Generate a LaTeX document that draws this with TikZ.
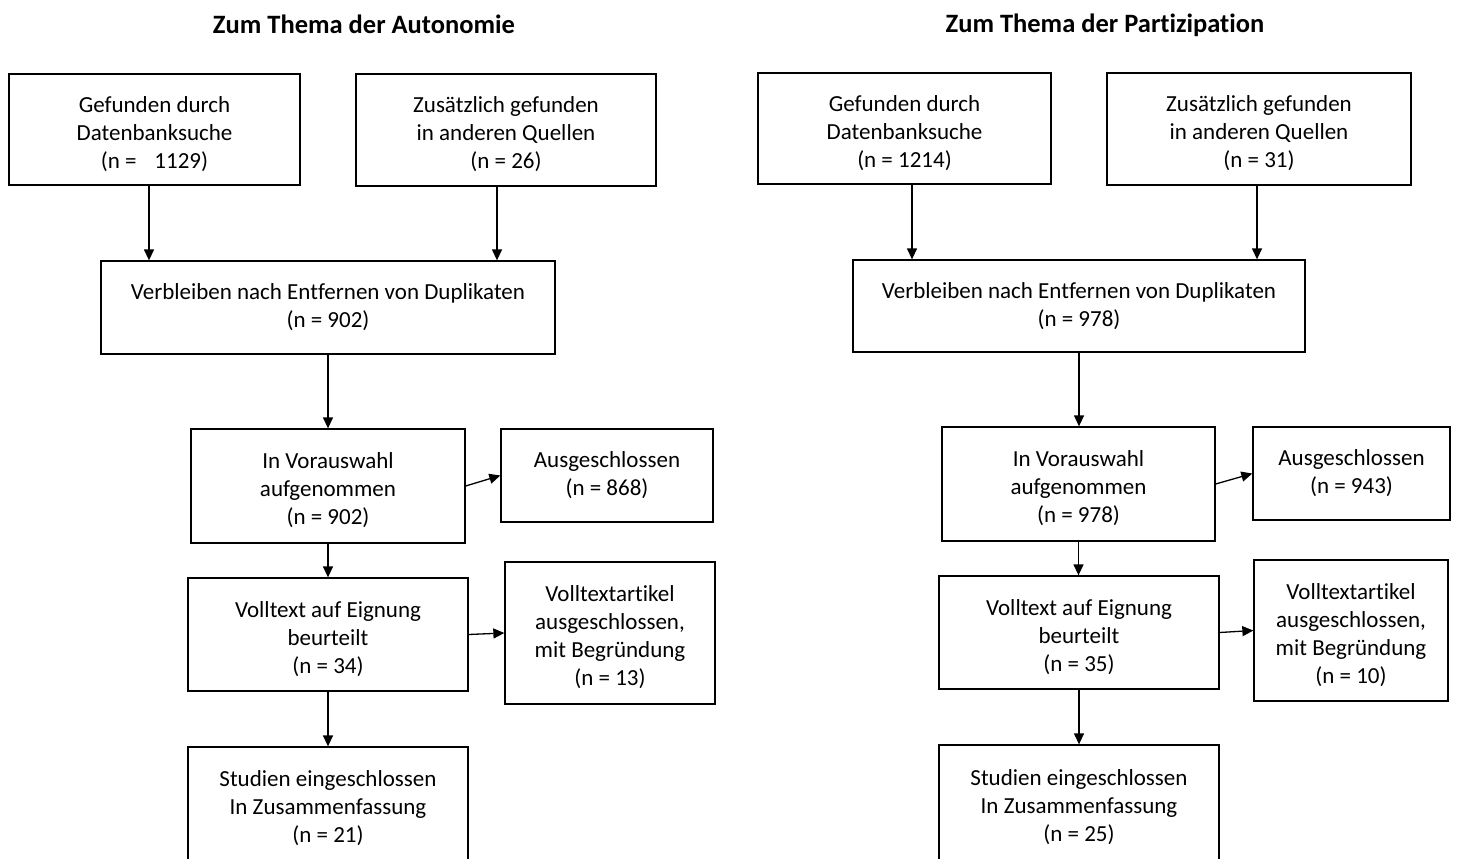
\documentclass[tikz,border=0pt]{standalone}
\usepackage{fontspec}
\setmainfont{Carlito}[Ligatures=NoCommon]
\usetikzlibrary{arrows.meta}
\newcommand{\lowr}{\rule{0pt}{25pt}}
\tikzset{
  box/.style={draw, line width=1.3pt, align=center, inner sep=0pt,
    font=\fontsize{23}{28}\selectfont},
  arr/.style={line width=1.3pt, -{Triangle[length=11pt,width=10pt]}},
  ttl/.style={font=\fontsize{26.5}{30}\selectfont\bfseries, inner sep=0pt}
}
\begin{document}
\begin{tikzpicture}[x=1pt,y=-1pt]
\useasboundingbox[fill=white] (0,0) rectangle (1457,859);
\begin{scope}
\clip (0,0) rectangle (1457,859);
% Left panel
\node[ttl] (Lt) at (364,24) {Zum Thema der Autonomie};
\node[box, minimum width=291pt, minimum height=111pt] (LA1) at (154.5,129.5) {\lowr Gefunden durch\\Datenbanksuche\\(n = \hspace{0.55em}1129)};
\node[box, minimum width=300pt, minimum height=112pt] (LA2) at (506,130) {\lowr Zusätzlich gefunden\\in anderen Quellen\\(n = 26)};
\node[box, minimum width=454pt, minimum height=93pt] (LB) at (328,307.5) {Verbleiben nach Entfernen von Duplikaten\\(n = 902)};
\node[box, minimum width=274pt, minimum height=114pt] (LC) at (328,486) {\lowr In Vorauswahl\\aufgenommen\\(n = 902)};
\node[box, minimum width=212pt, minimum height=93pt] (LD) at (607,475.5) {Ausgeschlossen\\(n = 868)};
\node[box, minimum width=280pt, minimum height=113pt] (LE) at (328,634.5) {\lowr Volltext auf Eignung\\beurteilt\\(n = 34)};
\node[box, minimum width=210pt, minimum height=142pt] (LF) at (610,633) {\lowr Volltextartikel\\ausgeschlossen,\\mit Begründung\\(n = 13)};
\node[box, minimum width=280pt, minimum height=114pt] (LG) at (328,804) {\lowr Studien eingeschlossen\\In Zusammenfassung\\(n = 21)};
\draw[arr] ([xshift=-5.5pt]LA1.south) -- ([xshift=-5.5pt]LA1.south |- LB.north);
\draw[arr] ([xshift=-9pt]LA2.south) -- ([xshift=-9pt]LA2.south |- LB.north);
\draw[arr] (LB.south) -- (LB.south |- LC.north);
\draw[arr] (LC.east) -- (LD.west);
\draw[arr] (LC.south) -- (LC.south |- LE.north);
\draw[arr] (LE.east) -- (LF.west);
\draw[arr] (LE.south) -- (LE.south |- LG.north);
% Right panel
\node[ttl, anchor=base] (Rt) at (1105,33) {Zum Thema der Partizipation};
\node[box, minimum width=293pt, minimum height=111pt] (RA1) at (904.5,128.5) {\lowr Gefunden durch\\Datenbanksuche\\(n = 1214)};
\node[box, minimum width=304pt, minimum height=112pt] (RA2) at (1259,129) {\lowr Zusätzlich gefunden\\in anderen Quellen\\(n = 31)};
\node[box, minimum width=452pt, minimum height=92pt] (RB) at (1079,306) {Verbleiben nach Entfernen von Duplikaten\\(n = 978)};
\node[box, minimum width=273pt, minimum height=114pt] (RC) at (1078.5,484) {\lowr In Vorauswahl\\aufgenommen\\(n = 978)};
\node[box, minimum width=197pt, minimum height=93pt] (RD) at (1351.5,473.5) {Ausgeschlossen\\(n = 943)};
\node[box, minimum width=280pt, minimum height=113pt] (RE) at (1079,632.5) {\lowr Volltext auf Eignung\\beurteilt\\(n = 35)};
\node[box, minimum width=194pt, minimum height=141pt] (RF) at (1351,630.5) {\lowr Volltextartikel\\ausgeschlossen,\\mit Begründung\\(n = 10)};
\node[box, minimum width=280pt, minimum height=115pt] (RG) at (1079,802.5) {\lowr Studien eingeschlossen\\In Zusammenfassung\\(n = 25)};
\draw[arr] ([xshift=7.5pt]RA1.south) -- ([xshift=7.5pt]RA1.south |- RB.north);
\draw[arr] ([xshift=-2pt]RA2.south) -- ([xshift=-2pt]RA2.south |- RB.north);
\draw[arr] (RB.south) -- (RB.south |- RC.north);
\draw[arr] (RC.east) -- (RD.west);
\draw[arr] (RC.south) -- (RC.south |- RE.north);
\draw[arr] (RE.east) -- (RF.west);
\draw[arr] (RE.south) -- (RE.south |- RG.north);
\end{scope}
\end{tikzpicture}
\end{document}
